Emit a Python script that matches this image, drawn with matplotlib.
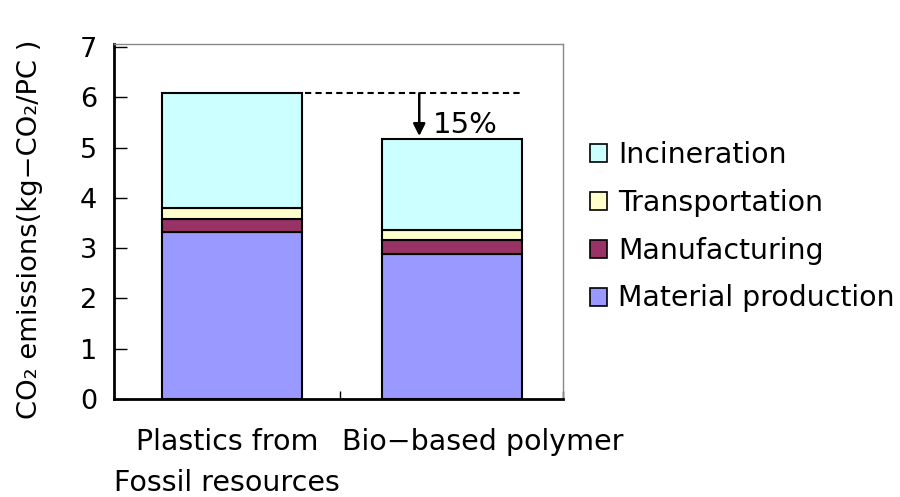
import matplotlib.pyplot as plt
from matplotlib.patches import Patch

plt.rcParams['font.family'] = ['DejaVu Sans']

# life-cycle CO2 per PC, stacked by stage (kg-CO2/PC)
products = ["Plastics from\nFossil resources", "Bio−based polymer"]
stages = ["Material production", "Manufacturing", "Transportation", "Incineration"]
material = [3.32, 2.89]
manufacturing = [0.26, 0.27]
transport = [0.21, 0.20]
incineration = [2.29, 1.82]
reduction_label = "15%"

colors = ["#9999FF", "#993366", "#FFFFCC", "#CCFFFF"]
series = [material, manufacturing, transport, incineration]

fig = plt.figure(figsize=(9, 4.97), dpi=100)
ax = fig.add_axes([114/900, 1-399/497, (563-114)/900, (399-44)/497])

xs = [0, 1]
bottom = [0.0, 0.0]
for vals, c in zip(series, colors):
    ax.bar(xs, vals, bottom=bottom, width=0.638, color=c, edgecolor="black",
           linewidth=1.5, zorder=3)
    bottom = [b + v for b, v in zip(bottom, vals)]

totals = bottom
ax.set_xlim(-0.538, 1.508)
ax.set_ylim(0, 7.06)

# reference line at the fossil total and the arrow down to the bio-based total
ax.plot([0.333, 1.32], [totals[0], totals[0]], color="black", lw=1.5,
        ls=(0, (3, 2)), zorder=4)
ax.annotate("", xy=(0.853, totals[1] + 0.05), xytext=(0.853, totals[0]),
            arrowprops=dict(arrowstyle="-|>", color="black", lw=1.8,
                            mutation_scale=18, shrinkA=0, shrinkB=0))
ax.text(0.914, 5.45, reduction_label, fontsize=21, va="center", ha="left")

ax.set_yticks(range(0, 8))
ax.tick_params(axis="y", direction="in", length=9, width=1, labelsize=19.5, pad=12)
ax.set_xticks([-0.023, 1.143], labels=products)
ax.tick_params(axis="x", which="major", length=0, labelsize=20.5, pad=21)
ax.set_xticks([0.49, 1.508], minor=True)
ax.tick_params(axis="x", which="minor", direction="in", length=6, width=1)
for lbl in ax.get_xticklabels():
    lbl.set_linespacing(1.58)

for side in ("left", "bottom"):
    ax.spines[side].set_linewidth(2)
for side in ("top", "right"):
    ax.spines[side].set_color("#888888")
    ax.spines[side].set_linewidth(1)

fig.text(30/900, 1-229/497, "CO₂ emissions(kg−CO₂/PC )", rotation=90,
         fontsize=19.7, ha="center", va="center")

handles = [Patch(facecolor=c, edgecolor="black", lw=1.2) for c in colors]
fig.legend(handles[::-1], stages[::-1], loc="upper left",
           bbox_to_anchor=(590/900, 1-141/497), frameon=False, fontsize=20.4,
           handlelength=0.6, handleheight=0.6, handletextpad=0.38,
           labelspacing=0.7, borderpad=0, borderaxespad=0)

fig.savefig("out.png", dpi=100)
